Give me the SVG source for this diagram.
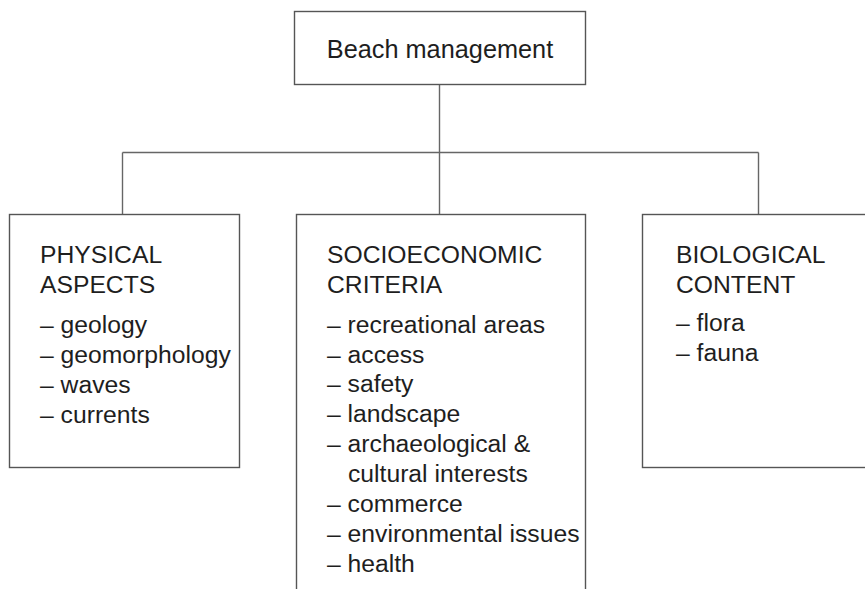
<svg xmlns="http://www.w3.org/2000/svg" width="865" height="589" viewBox="0 0 865 589">
<style>
.box{fill:#fff;stroke:#555;stroke-width:1.4}
.ln{fill:none;stroke:#666;stroke-width:1.4}
text{font-family:"Liberation Sans",Arial,sans-serif;font-size:24.7px;fill:#1e1e1e}
</style>
<rect x="0" y="0" width="865" height="589" fill="#fff"/>
<g id="connectors">
<line class="ln" x1="439.5" y1="84" x2="439.5" y2="214"/>
<line class="ln" x1="122.5" y1="152.5" x2="758.5" y2="152.5"/>
<line class="ln" x1="122.5" y1="152.5" x2="122.5" y2="214"/>
<line class="ln" x1="758.5" y1="152.5" x2="758.5" y2="214"/>
</g>
<g id="root">
<rect class="box" x="294.5" y="11.5" width="291" height="73"/>
<text x="440" y="58" text-anchor="middle" style="font-size:25.3px">Beach management</text>
</g>
<g id="physical">
<rect class="box" x="9.5" y="214.5" width="230" height="253"/>
<text x="40" y="263">PHYSICAL</text>
<text x="40" y="293">ASPECTS</text>
<text x="40" y="333">– geology</text>
<text x="40" y="363">– geomorphology</text>
<text x="40" y="393">– waves</text>
<text x="40" y="423">– currents</text>
</g>
<g id="socioeconomic">
<rect class="box" x="296.5" y="214.5" width="289" height="400"/>
<text x="327" y="263">SOCIOECONOMIC</text>
<text x="327" y="293">CRITERIA</text>
<text x="327" y="333">– recreational areas</text>
<text x="327" y="363">– access</text>
<text x="327" y="392">– safety</text>
<text x="327" y="422">– landscape</text>
<text x="327" y="452">– archaeological &amp;</text>
<text x="348" y="482">cultural interests</text>
<text x="327" y="512">– commerce</text>
<text x="327" y="542">– environmental issues</text>
<text x="327" y="572">– health</text>
</g>
<g id="biological">
<rect class="box" x="642.5" y="214.5" width="240" height="253"/>
<text x="676" y="263">BIOLOGICAL</text>
<text x="676" y="293">CONTENT</text>
<text x="676" y="331">– flora</text>
<text x="676" y="361">– fauna</text>
</g>
</svg>
